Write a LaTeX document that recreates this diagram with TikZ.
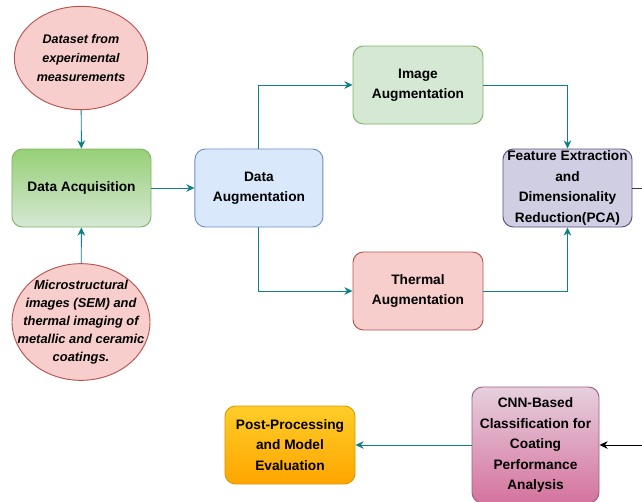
\documentclass[tikz,border=0pt]{standalone}
\usepackage{fontspec}
\setmainfont{Liberation Sans}
\usetikzlibrary{arrows.meta,positioning,shapes.geometric}
\definecolor{FlowTeal}{HTML}{0E8088}
\definecolor{SoftRed}{HTML}{F8CECC}
\definecolor{DeepRed}{HTML}{B85450}
\definecolor{SoftGreen}{HTML}{D5E8D4}
\definecolor{MidGreen}{HTML}{97D077}
\definecolor{EdgeGreen}{HTML}{82B366}
\definecolor{SoftBlue}{HTML}{DAE8FC}
\definecolor{EdgeBlue}{HTML}{6C8EBF}
\definecolor{SoftPurple}{HTML}{D0CEE2}
\definecolor{EdgePurple}{HTML}{56517E}
\definecolor{Amber}{HTML}{FFCD28}
\definecolor{DeepAmber}{HTML}{FFA500}
\definecolor{EdgeAmber}{HTML}{D79B00}
\definecolor{SoftPink}{HTML}{E6D0DE}
\definecolor{DeepPink}{HTML}{D5739D}
\definecolor{EdgePink}{HTML}{996185}
\tikzset{
  boxtext/.style={font=\bfseries\fontsize{11.7}{17.5}\selectfont, align=center},
  srctext/.style={font=\bfseries\itshape\fontsize{11}{15.5}\selectfont, align=center},
  source/.style={ellipse, draw=DeepRed, fill=SoftRed, thick, inner sep=0pt},
  stagebox/.style={boxtext, rounded corners=9pt, thick, inner sep=0pt,
    minimum width=3.9cm, minimum height=2.34cm},
  flow/.style={-{Stealth[length=7pt,width=6.5pt]}, FlowTeal, thick},
  flowblk/.style={-{Stealth[length=7pt,width=6.5pt]}, black, thick}
}

\begin{document}
\begin{tikzpicture}[x=0.03cm, y=-0.03cm]
  \useasboundingbox (0,0) rectangle (642,501);

  % inputs
  \node[source, minimum width=4.0cm, minimum height=3.1cm,
    label={[srctext, font=\bfseries\itshape\fontsize{10.7}{16.3}\selectfont]center:{Dataset from\\experimental\\measurements}}] (dataset) at (81,58) {};
  \node[source, minimum width=4.14cm, minimum height=3.5cm,
    label={[srctext]center:{Microstructural\\images (SEM) and\\thermal imaging of\\metallic and ceramic\\coatings.}}] (micro) at (81,322) {};

  % main stages
  \node[stagebox, draw=EdgeGreen, top color=MidGreen, bottom color=SoftGreen,
    minimum width=4.17cm] (acq) at (81.5,188) {Data Acquisition};
  \node[stagebox, draw=EdgeBlue, fill=SoftBlue, minimum width=3.84cm,
    right=1.29cm of acq] (aug) {Data\\Augmentation};
  \node[stagebox, draw=EdgeGreen, fill=SoftGreen] (imgaug) at (418,85) {Image\\Augmentation};
  \node[stagebox, draw=DeepRed, fill=SoftRed] (thermaug) at (418,291) {Thermal\\Augmentation};
  \node[stagebox, draw=EdgePurple, fill=SoftPurple, minimum width=3.87cm]
    (feature) at (567.5,188) {Feature Extraction\\and\\Dimensionality\\Reduction(PCA)};
  \node[stagebox, draw=EdgePink, top color=SoftPink, bottom color=DeepPink,
    minimum width=3.81cm, minimum height=3.48cm] (cnn) at (535.5,445)
    {CNN-Based\\Classification for\\Coating\\Performance\\Analysis};
  \node[stagebox, draw=EdgeAmber, top color=Amber, bottom color=DeepAmber]
    (post) at (290,445) {Post-Processing\\and Model\\Evaluation};

  \coordinate (featout) at (642,188);
  \coordinate (cnnin) at (642,445);

  % connectors
  \draw[flow] (dataset) -- (acq);
  \draw[flow] (micro) -- (acq);
  \draw[flow] (acq) -- (aug);
  \draw[flow] (aug.north) |- (imgaug.west);
  \draw[flow] (aug.south) |- (thermaug.west);
  \draw[flow] (imgaug.east) -| (feature.north);
  \draw[flow] (thermaug.east) -| (feature.south);
  \draw[EdgePurple!70!black, thick] (feature.east) -- (featout);
  \draw[flowblk] (cnnin) -- (cnn.east);
  \draw[flow] (cnn.west) -- (post.east);
\end{tikzpicture}
\end{document}
